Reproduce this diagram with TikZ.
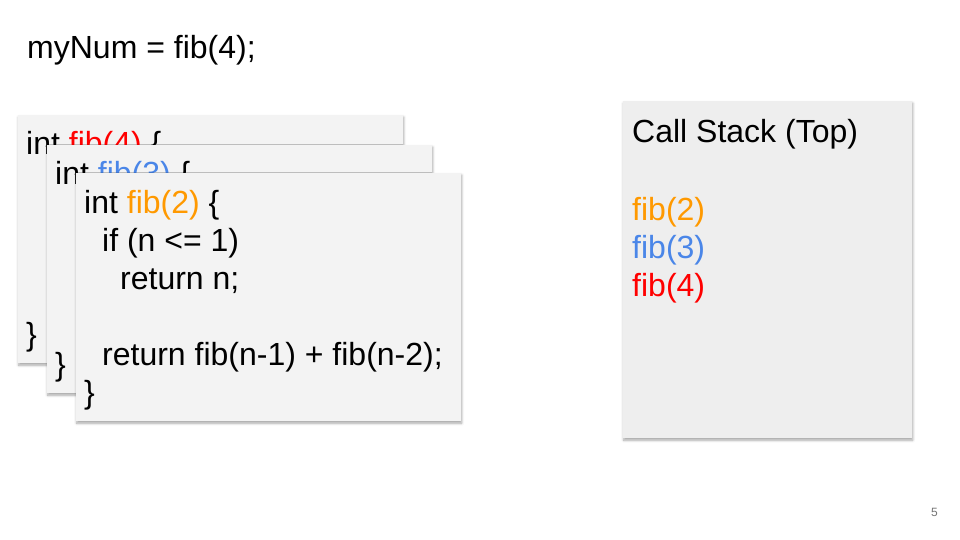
\documentclass[tikz,border=0pt]{standalone}
\usepackage{fontspec}
\setmainfont{Liberation Sans}
\usetikzlibrary{shadows.blur}
\definecolor{fibred}{HTML}{FF0000}
\definecolor{fibblue}{HTML}{4A86E8}
\definecolor{fiborange}{HTML}{FF9900}
\definecolor{framegray}{HTML}{F3F3F3}
\definecolor{stackgray}{HTML}{EEEEEE}
\definecolor{pagegray}{HTML}{757575}
\tikzset{
  slab/.style={inner sep=0pt, anchor=north west,
    blur shadow={shadow xshift=0.5pt, shadow yshift=-2pt, shadow blur radius=2.5pt, shadow opacity=35}},
  frame/.style={slab, fill=framegray, minimum width=385pt, minimum height=248pt},
  code/.style={inner sep=0pt, anchor=base west, font=\fontsize{32}{38}\selectfont},
}
\begin{document}
\begin{tikzpicture}[x=1pt,y=-1pt]
		\useasboundingbox (0,0) rectangle (960,540);
		
		\node[code] (call) at (27,59) {myNum = fib(4);};
		
		% one frame per call, newest on top
		\foreach \n/\x/\y/\c in {4/18/115/fibred,3/47/145/fibblue,2/76/173/fiborange}{
			\node[frame] (frame\n) at (\x,\y){};
			\node[code] (head\n) at (\x+8,\y+40) {int \textcolor{\c}{fib(\n)} \{};
			\node[code] (end\n) at (\x+8,\y+230) {\}};
		}
		
		% body of the top frame
		\node[code] (base2) at (102,251) {if (n <= 1)};
		\node[code] (ret2) at (120,289) {return n;};
		\node[code] (rec2) at (102,365) {return fib(n-1) + fib(n-2);};
		
		\node[slab, fill=stackgray, minimum width=289pt, minimum height=337pt] (stack) at (623,101){};
		\node[code] (top) at (632,143) {Call Stack (Top)};
		\node[code, text=fiborange] (s2) at (632,220) {fib(2)};
		\node[code, text=fibblue] (s3) at (632,258) {fib(3)};
		\node[code, text=fibred] (s4) at (632,296) {fib(4)};
		
		\node[inner sep=0pt, anchor=base east, text=pagegray, font=\fontsize{12}{14}\selectfont] (page) at (938,516) {5};
		\end{tikzpicture}
\end{document}
